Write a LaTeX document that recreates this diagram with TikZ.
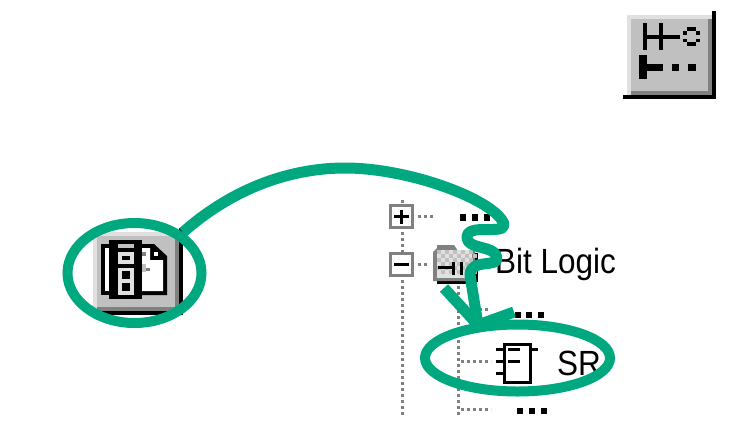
\documentclass[tikz,border=0pt]{standalone}
\usepackage{fontspec}
\setmainfont{Liberation Sans}
\usetikzlibrary{shapes.geometric}
\definecolor{markgreen}{RGB}{0,168,128}
\definecolor{btn}{RGB}{192,192,192}
\definecolor{btnlight}{RGB}{224,224,224}
\definecolor{btndark}{RGB}{128,128,128}
\newcommand{\rr}[5]{\fill[#5] (#1,#2) rectangle (#3,#4);}
\tikzset{
  treedots/.style={btndark,line width=3pt,dash pattern=on 3pt off 3pt},
  markline/.style={draw=markgreen,line width=11pt,line join=round},
  markring/.style={draw=markgreen,line width=10pt,ellipse,inner sep=0pt,fill=none},
  treelabel/.style={font=\fontsize{35}{35}\selectfont,inner sep=0pt,anchor=base west,text=black},
}
\begin{document}
\begin{tikzpicture}[x=1pt,y=-1pt]
\useasboundingbox (0,0) rectangle (735,429);
% top right button
\rr{627}{15}{712}{95}{btnlight}
\rr{631}{19}{708}{91}{btn}
\rr{708}{19}{712}{95}{btndark}
\rr{631}{91}{712}{95}{btndark}
\rr{712}{11}{716}{99}{black}
\rr{623}{95}{716}{99}{black}
\rr{643}{23}{647}{50}{black}
\rr{659}{23}{663}{50}{black}
\rr{647}{35}{659}{39}{black}
\rr{663}{35}{680}{39}{black}
\rr{687}{27}{696}{31}{black}
\rr{687}{42}{696}{46}{black}
\rr{683}{31}{687}{35}{black}
\rr{683}{39}{687}{42}{black}
\rr{696}{31}{700}{35}{black}
\rr{696}{39}{700}{42}{black}
\rr{639}{55}{647}{79}{black}
\rr{647}{64}{663}{71}{black}
\rr{672}{64}{679}{71}{black}
\rr{688}{64}{696}{71}{black}
% left button
\rr{93}{232}{175}{311}{btnlight}
\rr{97}{236}{175}{307}{btn}
\rr{175}{236}{179}{311}{btndark}
\rr{97}{307}{179}{311}{btndark}
\rr{179}{228}{183}{315}{black}
\rr{100}{311}{183}{315}{black}
\rr{101}{244}{112}{295}{black}
\rr{105}{248}{112}{291}{white}
\rr{109}{240}{142}{299}{black}
\rr{118}{244}{134}{248}{btn}
\rr{118}{252}{134}{264}{btnlight}
\rr{122}{256}{130}{260}{black}
\rr{118}{268}{134}{295}{btnlight}
\rr{122}{271}{130}{279}{black}
\rr{122}{283}{130}{291}{black}
\fill[black] (142,244) -- (154,244) -- (167,256) -- (167,295) -- (142,295) -- cycle;
\fill[white] (142,248) -- (150,248) -- (150,260) -- (163,260) -- (163,291) -- (142,291) -- cycle;
\rr{154}{252}{158}{256}{white}
\rr{142}{252}{146}{256}{btndark}
\rr{142}{264}{146}{272}{btn}
\rr{146}{268}{150}{271}{btndark}
% tree dotted lines
\draw[treedots] (402,200) -- (402,203);
\draw[treedots] (402,232) -- (402,252);
\draw[treedots] (402,280) -- (402,416);
\draw[treedots] (418,216) -- (434,216);
\draw[treedots] (418,264) -- (430,264);
\draw[treedots] (458,286) -- (458,416);
\draw[treedots] (461,309) -- (490,309);
\draw[treedots] (461,361) -- (491,361);
\draw[treedots] (461,409) -- (491,409);
% plus and minus boxes
\draw[btndark,line width=3pt,fill=white] (390,205) rectangle (412,227);
\rr{394}{215}{409}{218}{black}
\rr{400}{210}{403}{224}{black}
\draw[btndark,line width=3pt,fill=white] (390,253.5) rectangle (412,275.5);
\rr{394}{263}{409}{266}{black}
% dot groups
\foreach \x in {460,472,484} {\rr{\x}{214}{\the\numexpr\x+6\relax}{221}{black}}
\foreach \x in {515,526,538} {\rr{\x}{312}{\the\numexpr\x+6\relax}{318}{black}}
\foreach \x in {517,529,541} {\rr{\x}{408}{\the\numexpr\x+6\relax}{414}{black}}
% folder
\rr{437}{281}{467}{284}{black}
\rr{475}{253}{478}{282}{black}
\fill[btndark] (433,252) -- (437,248) -- (437,245) -- (454,245) -- (458,251) -- (475,251) -- (475,281) -- (433,281) -- cycle;
\rr{437}{250}{472}{278}{btnlight}
\foreach \x in {437,445,...,469}{\foreach \y in {250,258,266}{\rr{\x}{\y}{\the\numexpr\x+4\relax}{\the\numexpr\y+4\relax}{btn}\rr{\the\numexpr\x+4\relax}{\the\numexpr\y+4\relax}{\the\numexpr\x+8\relax}{\the\numexpr\y+8\relax}{btn}}}
\rr{438}{266}{452}{269}{black}
\rr{452}{262}{455}{275}{black}
\rr{460}{262}{463}{275}{black}
% SR block
\draw[black,line width=3pt,fill=white] (504.5,344) rectangle (530.5,382);
\rr{496}{348}{503}{351}{black}
\rr{496}{360}{503}{363}{black}
\rr{496}{372}{503}{375}{black}
\rr{508}{348}{520}{351}{black}
\rr{508}{360}{520}{363}{black}
\rr{532}{348}{538}{351}{black}
% labels
\node[treelabel] (bitlogic) at (495,273.5) {\scalebox{.9}[1]{Bit Logic}};
\node[treelabel] (srlabel) at (557,375) {\scalebox{.9}[1]{SR}};
% green marks
\node[markring,minimum width=134pt,minimum height=100pt] (leftring) at (134.5,273) {};
\node[markring,minimum width=185pt,minimum height=67pt] (rightring) at (517.5,358) {};
\coordinate (bend1) at (504,224);
\coordinate (bend2) at (467,238);
\coordinate (bend3) at (497,258);
\coordinate (bend4) at (470,275);
\coordinate (tip) at (478,325);
\coordinate (barbleft) at (444,288);
\coordinate (barbright) at (514,312);
\draw[markline] (leftring.40) .. controls (240,182) and (300,168) .. (345,168)
  .. controls (410,168) and (495,200) .. (bend1)
  .. controls (506,236) and (466,222) .. (bend2)
  .. controls (468,250) and (496,245) .. (bend3)
  .. controls (498,268) and (470,258) .. (bend4)
  -- (tip);
\draw[markline] (barbleft) -- (tip) -- (barbright);
\end{tikzpicture}
\end{document}
